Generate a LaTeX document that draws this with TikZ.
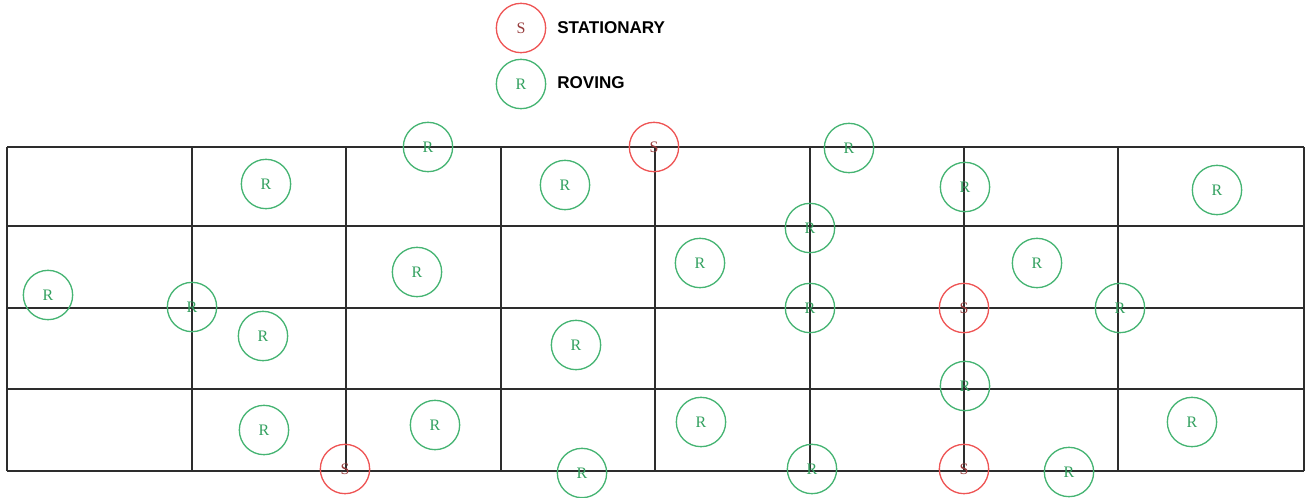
\documentclass[tikz,border=0pt]{standalone}
\usepackage{fontspec}
\setmainfont{Liberation Serif}
\newfontfamily\legendfont{Liberation Sans}
\definecolor{rovgreen}{RGB}{70,180,115}
\definecolor{rovtext}{RGB}{50,160,95}
\definecolor{statred}{RGB}{238,85,85}
\definecolor{stattext}{RGB}{150,60,60}
\definecolor{gridcol}{RGB}{45,45,45}
\tikzset{
  rov/.style={circle, draw=rovgreen, line width=1pt, minimum size=37pt, inner sep=0pt,
    text=rovtext, font=\fontsize{12}{12}\selectfont},
  stat/.style={circle, draw=statred, line width=1pt, minimum size=37pt, inner sep=0pt,
    text=stattext, font=\fontsize{12}{12}\selectfont},
  legtext/.style={anchor=west, inner sep=0pt, font=\legendfont\bfseries\fontsize{12.8}{13}\selectfont},
  gridline/.style={draw=gridcol, line width=1.1pt}
}
\begin{document}
\begin{tikzpicture}[x=0.75pt, y=-0.75pt]
\useasboundingbox (0,0) rectangle (1307,497);
% grid
\foreach \yy in {147,226,308,389,471} \draw[gridline] (7,\yy) -- (1304,\yy);
\foreach \xx in {7,192,346,501,655,810,964,1118,1304} \draw[gridline] (\xx,147) -- (\xx,471);
\draw[draw=gridcol, line width=1.6pt] (7,147) -- (52,147);
% legend
\node[stat] (ls) at (521,28) {S};
\node[rov] (lr) at (521,84) {R};
\node[legtext] (lst) at (557,28) {STATIONARY};
\node[legtext] (lrt) at (557,83) {ROVING};
% field nodes
\node[rov] (r1) at (428,147) {R};
\node[stat] (s1) at (654,147) {S};
\node[rov] (r2) at (849,148) {R};
\node[rov] (r3) at (266,184) {R};
\node[rov] (r4) at (565,185) {R};
\node[rov] (r5) at (965,187) {R};
\node[rov] (r6) at (1217,190) {R};
\node[rov] (r7) at (810,228) {R};
\node[rov] (r8) at (700,263) {R};
\node[rov] (r9) at (417,272) {R};
\node[rov] (r10) at (1037,263) {R};
\node[rov] (r11) at (48,295) {R};
\node[rov] (r12) at (192,307) {R};
\node[rov] (r13) at (810,308) {R};
\node[stat] (s2) at (964,308) {S};
\node[rov] (r14) at (1120,308) {R};
\node[rov] (r15) at (263,336) {R};
\node[rov] (r16) at (576,345) {R};
\node[rov] (r17) at (965,386) {R};
\node[rov] (r18) at (264,430) {R};
\node[rov] (r19) at (435,425) {R};
\node[rov] (r20) at (701,422) {R};
\node[rov] (r21) at (1192,422) {R};
\node[stat] (s3) at (345,469) {S};
\node[rov] (r22) at (582,473) {R};
\node[rov] (r23) at (812,469) {R};
\node[stat] (s4) at (964,469) {S};
\node[rov] (r24) at (1069,472) {R};
\end{tikzpicture}
\end{document}
